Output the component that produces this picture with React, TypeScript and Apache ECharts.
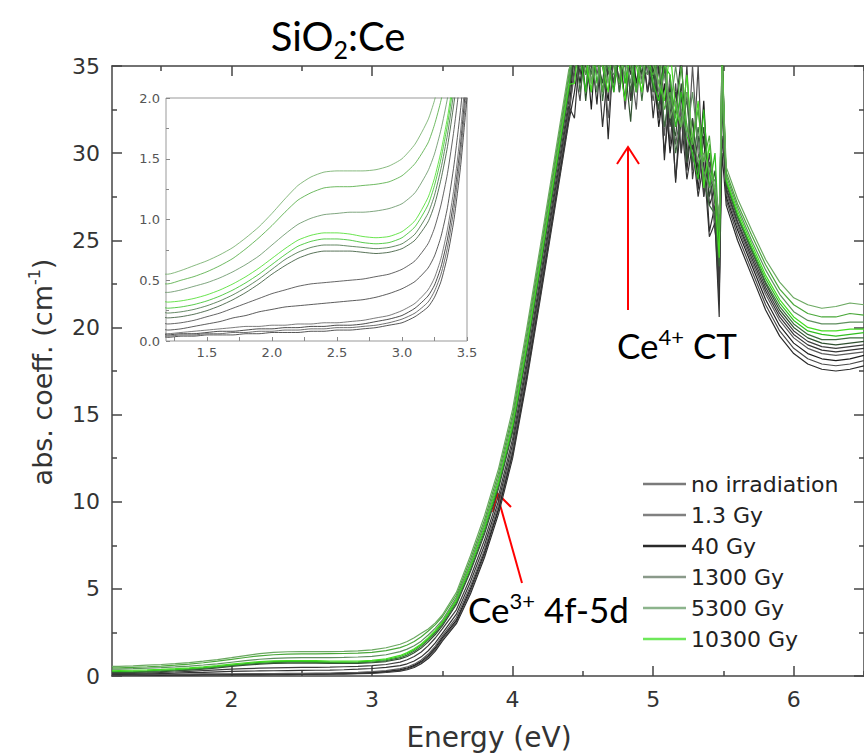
import React, { useEffect, useRef } from "react";
import * as echarts from "echarts";

// ---------- energy grid (eV) ----------
const E_LOW = [1.15, 1.2, 1.3, 1.4, 1.5, 1.6, 1.7, 1.8, 1.9, 2.0, 2.1, 2.2, 2.3, 2.4, 2.5, 2.6, 2.7, 2.8, 2.9, 3.0, 3.1, 3.2, 3.25, 3.3, 3.35, 3.4, 3.45, 3.5];
const E_RISE = [3.6, 3.7, 3.8, 3.9, 4.0, 4.1, 4.2, 4.3, 4.4];
const E_TOP = [4.44, 4.48, 4.52, 4.56, 4.6, 4.64, 4.68, 4.72, 4.76, 4.8, 4.84, 4.88, 4.92, 4.96, 5.0, 5.04, 5.08, 5.12, 5.16, 5.2, 5.24, 5.28, 5.32, 5.36, 5.4, 5.44, 5.47, 5.49];
const E_TAIL = [5.52, 5.6, 5.7, 5.8, 5.9, 6.0, 6.1, 6.2, 6.3, 6.4, 6.5];

// ---------- legend ----------
const DOSE_NAMES = ["no irradiation", "1.3 Gy", "40 Gy", "1300 Gy", "5300 Gy", "10300 Gy"];
const LEGEND_COLORS = ["#7a7a7a", "#808080", "#2a2a2a", "#8a9a8a", "#8cb48c", "#6ee85a"];

// ---------- curves (abs. coeff., cm^-1) ----------
const CURVE_LOW = [
  [0.04, 0.03, 0.04, 0.04, 0.05, 0.05, 0.05, 0.06, 0.06, 0.07, 0.07, 0.07, 0.08, 0.08, 0.09, 0.09, 0.10, 0.11, 0.13, 0.15, 0.20, 0.28, 0.36, 0.49, 0.70, 1.00, 1.43, 2.00],
  [0.05, 0.04, 0.05, 0.05, 0.06, 0.06, 0.07, 0.07, 0.08, 0.08, 0.09, 0.09, 0.10, 0.10, 0.11, 0.11, 0.12, 0.13, 0.15, 0.18, 0.23, 0.32, 0.41, 0.55, 0.77, 1.09, 1.53, 2.10],
  [0.06, 0.05, 0.06, 0.06, 0.07, 0.08, 0.08, 0.09, 0.10, 0.10, 0.11, 0.11, 0.12, 0.12, 0.13, 0.13, 0.14, 0.16, 0.18, 0.21, 0.27, 0.37, 0.46, 0.61, 0.84, 1.17, 1.62, 2.20],
  [0.07, 0.06, 0.07, 0.08, 0.09, 0.10, 0.11, 0.12, 0.12, 0.13, 0.13, 0.14, 0.14, 0.15, 0.15, 0.16, 0.17, 0.19, 0.21, 0.25, 0.31, 0.42, 0.52, 0.68, 0.92, 1.26, 1.72, 2.30],
  [0.10, 0.09, 0.10, 0.12, 0.14, 0.16, 0.19, 0.21, 0.24, 0.26, 0.28, 0.29, 0.30, 0.31, 0.32, 0.33, 0.34, 0.36, 0.39, 0.43, 0.49, 0.60, 0.70, 0.86, 1.10, 1.45, 1.90, 2.45],
  [0.15, 0.14, 0.15, 0.17, 0.20, 0.23, 0.27, 0.31, 0.35, 0.39, 0.42, 0.45, 0.47, 0.48, 0.49, 0.50, 0.51, 0.53, 0.55, 0.59, 0.66, 0.80, 0.93, 1.12, 1.38, 1.74, 2.18, 2.70],
  [0.20, 0.19, 0.20, 0.22, 0.25, 0.29, 0.34, 0.40, 0.47, 0.55, 0.62, 0.68, 0.72, 0.74, 0.74, 0.74, 0.73, 0.72, 0.73, 0.76, 0.83, 0.98, 1.12, 1.33, 1.60, 1.96, 2.38, 2.88],
  [0.24, 0.23, 0.24, 0.26, 0.29, 0.33, 0.38, 0.44, 0.51, 0.59, 0.67, 0.73, 0.77, 0.79, 0.79, 0.78, 0.77, 0.76, 0.77, 0.80, 0.88, 1.05, 1.20, 1.42, 1.70, 2.06, 2.48, 2.98],
  [0.28, 0.27, 0.28, 0.30, 0.33, 0.37, 0.42, 0.48, 0.55, 0.63, 0.71, 0.78, 0.82, 0.84, 0.84, 0.83, 0.81, 0.80, 0.81, 0.85, 0.94, 1.12, 1.28, 1.50, 1.78, 2.14, 2.56, 3.05],
  [0.33, 0.32, 0.33, 0.35, 0.38, 0.42, 0.47, 0.53, 0.60, 0.68, 0.76, 0.83, 0.87, 0.89, 0.89, 0.88, 0.86, 0.85, 0.86, 0.90, 0.99, 1.18, 1.34, 1.56, 1.84, 2.20, 2.62, 3.10],
  [0.40, 0.40, 0.42, 0.45, 0.48, 0.52, 0.57, 0.63, 0.70, 0.79, 0.88, 0.96, 1.01, 1.04, 1.05, 1.06, 1.06, 1.07, 1.09, 1.13, 1.22, 1.40, 1.54, 1.74, 2.00, 2.35, 2.75, 3.20],
  [0.47, 0.47, 0.50, 0.53, 0.57, 0.62, 0.68, 0.76, 0.85, 0.95, 1.06, 1.16, 1.22, 1.26, 1.27, 1.27, 1.28, 1.29, 1.31, 1.36, 1.46, 1.63, 1.78, 1.98, 2.25, 2.58, 2.95, 3.40],
  [0.55, 0.55, 0.58, 0.62, 0.66, 0.71, 0.77, 0.85, 0.94, 1.05, 1.17, 1.28, 1.35, 1.39, 1.40, 1.40, 1.40, 1.41, 1.44, 1.50, 1.62, 1.82, 1.98, 2.20, 2.45, 2.70, 3.05, 3.50],
];

const CURVE_RISE = [
  [3.0, 4.7, 6.8, 9.3, 12.5, 16.9, 21.8, 26.8, 31.8],
  [3.1, 4.85, 6.95, 9.5, 12.7, 17.1, 22.0, 27.0, 32.0],
  [3.2, 5.0, 7.1, 9.6, 12.85, 17.25, 22.2, 27.2, 32.2],
  [3.35, 5.15, 7.25, 9.8, 13.0, 17.45, 22.4, 27.4, 32.4],
  [3.55, 5.4, 7.5, 10.05, 13.3, 17.75, 22.7, 27.7, 32.7],
  [3.8, 5.65, 7.8, 10.35, 13.6, 18.05, 23.0, 28.0, 33.0],
  [4.1, 6.0, 8.15, 10.75, 14.0, 18.5, 23.45, 28.4, 33.4],
  [4.2, 6.1, 8.3, 10.9, 14.15, 18.65, 23.6, 28.6, 33.6],
  [4.3, 6.25, 8.45, 11.05, 14.35, 18.85, 23.8, 28.8, 33.8],
  [4.4, 6.35, 8.6, 11.2, 14.5, 19.0, 23.95, 28.95, 33.95],
  [4.5, 6.5, 8.75, 11.4, 14.75, 19.3, 24.25, 29.25, 34.25],
  [4.65, 6.7, 8.95, 11.65, 15.0, 19.6, 24.5, 29.5, 34.5],
  [4.8, 6.9, 9.2, 11.9, 15.3, 19.9, 24.8, 29.8, 34.8],
];

const CURVE_TOP = [
  [33.5, 36, 34.5, 36, 32.8, 37, 30.8, 36, 34, 37, 33, 36, 35.5, 37, 33.5, 36, 29.6, 34, 28.3, 33.5, 29, 32, 27.9, 31, 25.5, 27, 22, 30],
  [35, 33, 37, 34, 36, 33.5, 36.5, 34, 37, 32.5, 36, 33.5, 37, 34.5, 36, 32, 35, 30.5, 34, 30, 33.5, 29, 35, 27.5, 29.5, 26, 21.5, 33],
  [36, 34, 36.5, 32.5, 37, 35, 33, 37, 35.5, 33, 37, 34, 36, 33.5, 35, 31.5, 34, 30, 32.5, 35.5, 30, 31, 28.5, 33, 27, 28, 23, 36],
  [34.5, 36.5, 33.5, 37, 34.5, 36, 32, 35.5, 36.5, 34, 35, 32.5, 37, 35, 33, 35.5, 31, 34.5, 30.5, 32.5, 29.5, 35, 30, 28, 29, 25.5, 24, 34],
  [32, 36, 35, 33.5, 36, 31.5, 35, 37, 33.5, 36, 34.5, 37, 34, 36, 32, 35, 30, 33, 28.5, 32, 28.5, 30.5, 27.5, 29.5, 25.2, 26, 20.6, 36],
  [37, 34.5, 37, 35, 33.5, 36.5, 34.5, 36, 34, 37, 33, 35.5, 36.5, 33.5, 36, 33, 35.5, 31.5, 33.5, 30, 35, 28.5, 31, 27.5, 30, 27, 22.5, 31],
  [35.5, 37, 33, 36, 35.5, 34, 37, 33.5, 36, 35, 31.8, 36.5, 34.5, 37, 34.5, 32.5, 36, 32, 31, 34, 29.5, 32, 29, 31.5, 27.5, 29, 24.5, 36],
  [36.5, 33.5, 36, 34.5, 37, 33, 35.5, 36, 33.5, 36.5, 33.5, 36, 33, 36, 33.5, 36, 31.5, 33.5, 30, 32, 33, 29.5, 31.5, 28.5, 27, 26.5, 23.5, 33],
  [37, 35.5, 33.5, 37, 34, 36, 35, 33.5, 37, 34, 36, 33.5, 35.5, 36, 34, 33, 35, 34.5, 31.5, 33.5, 31, 30, 28.5, 32.5, 28, 30, 25, 35],
  [34, 37, 35.5, 33.5, 36.5, 35, 33.5, 37, 35, 33, 36.5, 35, 33.5, 37, 35.5, 34, 33, 36, 32.5, 31.5, 34.5, 30.5, 33, 28, 30.5, 27.5, 24, 36],
  [36, 35, 37, 35.5, 33.5, 37, 35, 34.5, 36, 35.5, 34, 37, 35, 34.5, 36, 33.5, 34.5, 32.5, 35, 32.5, 31, 33.5, 30.5, 29, 28, 28.5, 26, 34],
  [37, 36, 34.5, 37, 35.5, 33.5, 36.5, 35, 34, 37, 35, 33.5, 36.5, 35, 34.5, 35.5, 32.5, 33.5, 32, 35, 31.5, 30.5, 32.5, 29.5, 31, 27.5, 25.5, 33.5],
  [35.5, 37, 36, 34, 37, 35.5, 34, 37, 35.5, 34.5, 36.5, 35.5, 34, 36.5, 35, 34, 36, 32, 33, 31.5, 33.5, 31, 29.5, 30, 29, 28, 26.5, 35],
];

const CURVE_TAIL = [
  [27.0, 25.0, 23.0, 21.0, 19.5, 18.5, 17.9, 17.6, 17.5, 17.6, 17.8],
  [27.3, 25.3, 23.3, 21.3, 19.8, 18.8, 18.2, 17.9, 17.8, 17.9, 18.1],
  [27.5, 25.6, 23.6, 21.6, 20.1, 19.1, 18.5, 18.2, 18.1, 18.2, 18.4],
  [27.7, 25.8, 23.8, 21.9, 20.4, 19.4, 18.8, 18.5, 18.4, 18.5, 18.6],
  [27.9, 26.0, 24.0, 22.1, 20.6, 19.6, 19.0, 18.7, 18.6, 18.7, 18.8],
  [28.0, 26.1, 24.2, 22.3, 20.8, 19.8, 19.2, 18.9, 18.8, 18.9, 19.0],
  [28.2, 26.3, 24.4, 22.5, 21.0, 20.0, 19.4, 19.1, 19.0, 19.1, 19.2],
  [28.3, 26.4, 24.5, 22.6, 21.2, 20.2, 19.6, 19.3, 19.3, 19.4, 19.4],
  [28.4, 26.5, 24.6, 22.8, 21.4, 20.4, 19.8, 19.6, 19.5, 19.6, 19.7],
  [28.5, 26.7, 24.8, 23.0, 21.6, 20.6, 20.0, 19.8, 19.8, 19.9, 19.9],
  [28.7, 26.9, 25.0, 23.3, 21.9, 20.9, 20.4, 20.2, 20.2, 20.3, 20.3],
  [28.9, 27.1, 25.3, 23.6, 22.2, 21.3, 20.8, 20.6, 20.6, 20.8, 20.7],
  [29.2, 27.4, 25.6, 23.9, 22.6, 21.7, 21.3, 21.1, 21.2, 21.4, 21.3],
];

const CURVE_COLORS = ["#2a2a2a", "#4a4a4a", "#1e1e1e", "#5a5a5a", "#333333", "#3d3d3d", "#2f4f2f", "#3e6b3e", "#2fbf1f", "#44dd22", "#5f8f5f", "#4aa83a", "#6aa860"];

// ---------- ticks ----------
const X_MAJOR = [2, 3, 4, 5, 6];
const X_MINOR = [1.5, 2.5, 3.5, 4.5, 5.5, 6.5];
const INSET_X_LABELS = [1.5, 2.0, 2.5, 3.0, 3.5];
const INSET_X_TICKS = [1.25, 1.5, 1.75, 2.0, 2.25, 2.5, 2.75, 3.0, 3.25, 3.5];

const ENERGY = [...E_LOW, ...E_RISE, ...E_TOP, ...E_TAIL];

function buildOption() {
  const curves = CURVE_LOW.map((low, i) => {
    const vals = [...low, ...CURVE_RISE[i], ...CURVE_TOP[i], ...CURVE_TAIL[i]];
    return ENERGY.map((e, k) => [e, vals[k]]);
  });

  const axisCol = "#444";
  const font = "DejaVu Sans";
  const series: any[] = [];

  DOSE_NAMES.forEach((n, i) => {
    series.push({
      name: n,
      type: "line",
      xAxisIndex: 0,
      yAxisIndex: 0,
      data: [],
      symbol: "none",
      lineStyle: { color: LEGEND_COLORS[i], width: 2 },
      itemStyle: { color: LEGEND_COLORS[i] },
    });
  });

  curves.forEach((d, i) => {
    series.push({
      name: "curve" + i,
      type: "line",
      xAxisIndex: 0,
      yAxisIndex: 0,
      data: d,
      symbol: "none",
      silent: true,
      clip: true,
      lineStyle: { color: CURVE_COLORS[i], width: 1.2 },
    });
  });
  curves.forEach((d, i) => {
    series.push({
      name: "inset" + i,
      type: "line",
      xAxisIndex: 4,
      yAxisIndex: 2,
      data: d,
      symbol: "none",
      silent: true,
      clip: true,
      smooth: 0.2,
      lineStyle: { color: CURVE_COLORS[i], width: 0.8 },
    });
  });

  const mainX = (pos: string, major: boolean, label: boolean) => ({
    gridIndex: 0,
    type: "value",
    min: 1.15,
    max: 6.5,
    position: pos,
    axisLine: { show: major, onZero: false, lineStyle: { color: axisCol, width: 1.5 } },
    axisTick: {
      show: true,
      inside: true,
      length: major ? 10 : 5,
      customValues: major ? X_MAJOR : X_MINOR,
      lineStyle: { color: axisCol, width: 1.5 },
    },
    axisLabel: {
      show: label,
      customValues: X_MAJOR,
      margin: 12,
      fontFamily: font,
      fontSize: 22,
      color: "#333",
    },
    splitLine: { show: false },
  });

  const mainY = (pos: string, label: boolean) => ({
    gridIndex: 0,
    type: "value",
    min: 0,
    max: 35,
    interval: 5,
    position: pos,
    axisLine: { show: true, onZero: false, lineStyle: { color: axisCol, width: 1.5 } },
    axisTick: { show: true, inside: true, length: 10, lineStyle: { color: axisCol, width: 1.5 } },
    minorTick: { show: true, splitNumber: 2, length: 5, lineStyle: { color: axisCol, width: 1.5 } },
    axisLabel: { show: label, margin: 12, fontFamily: font, fontSize: 22, color: "#333" },
    splitLine: { show: false },
    minorSplitLine: { show: false },
  });

  return {
    animation: false,
    backgroundColor: "#fff",
    grid: [
      { left: 112, top: 66, width: 752, height: 610, show: false },
      { left: 166, top: 98, width: 301, height: 243, show: true, borderColor: "#999", borderWidth: 1, backgroundColor: "#fff" },
    ],
    legend: {
      data: DOSE_NAMES,
      orient: "vertical",
      left: 638,
      top: 468,
      icon: "rect",
      itemWidth: 43,
      itemHeight: 2.5,
      itemGap: 9,
      selectedMode: false,
      textStyle: { fontFamily: font, fontSize: 22, color: "#222", lineHeight: 22 },
    },
    xAxis: [
      mainX("bottom", true, true),
      mainX("bottom", false, false),
      mainX("top", true, false),
      mainX("top", false, false),
      {
        gridIndex: 1,
        type: "value",
        min: 1.185,
        max: 3.5,
        position: "bottom",
        axisLine: { show: false },
        axisTick: { show: true, inside: true, length: 4, customValues: INSET_X_TICKS, lineStyle: { color: "#888" } },
        axisLabel: {
          show: true,
          customValues: INSET_X_LABELS,
          margin: 5,
          fontFamily: font,
          fontSize: 13,
          color: "#555",
          formatter: (v: number) => v.toFixed(1),
        },
        splitLine: { show: false },
      },
    ],
    yAxis: [
      mainY("left", true),
      mainY("right", false),
      {
        gridIndex: 1,
        type: "value",
        min: 0,
        max: 2,
        interval: 0.5,
        position: "left",
        axisLine: { show: false },
        axisTick: { show: true, inside: true, length: 4, lineStyle: { color: "#888" } },
        minorTick: { show: true, splitNumber: 2, length: 3, lineStyle: { color: "#888" } },
        axisLabel: {
          show: true,
          margin: 6,
          fontFamily: font,
          fontSize: 13,
          color: "#555",
          formatter: (v: number) => v.toFixed(1),
        },
        splitLine: { show: false },
        minorSplitLine: { show: false },
      },
    ],
    series,
    graphic: [
      {
        type: "text",
        x: 338,
        y: 36,
        style: {
          text: "{a|SiO}{s|2}{a|:Ce}",
          align: "center",
          verticalAlign: "middle",
          fill: "#000",
          rich: {
            a: { fontFamily: "Lato", fontSize: 40, lineHeight: 46, fill: "#000" },
            s: { fontFamily: "Lato", fontSize: 25, lineHeight: 46, verticalAlign: "bottom", padding: [0, 0, -2, 0], fill: "#000" },
          },
        },
      },
      {
        type: "text",
        x: 617,
        y: 345,
        style: {
          text: "{a|Ce}{s|4+}{a| CT}",
          align: "left",
          verticalAlign: "middle",
          fill: "#000",
          rich: {
            a: { fontFamily: "Lato", fontSize: 35, lineHeight: 40, fill: "#000" },
            s: { fontFamily: "Lato", fontSize: 22, lineHeight: 22, verticalAlign: "top", fill: "#000" },
          },
        },
      },
      {
        type: "text",
        x: 468,
        y: 609,
        style: {
          text: "{a|Ce}{s|3+}{a| 4f-5d}",
          align: "left",
          verticalAlign: "middle",
          fill: "#000",
          rich: {
            a: { fontFamily: "Lato", fontSize: 35, lineHeight: 40, fill: "#000" },
            s: { fontFamily: "Lato", fontSize: 22, lineHeight: 22, verticalAlign: "top", fill: "#000" },
          },
        },
      },
      { type: "line", shape: { x1: 628, y1: 310, x2: 628, y2: 148 }, style: { stroke: "#ff0000", lineWidth: 2 } },
      { type: "polyline", shape: { points: [[617, 164], [628, 147], [639, 164]] }, style: { stroke: "#ff0000", lineWidth: 2, fill: null } },
      { type: "line", shape: { x1: 522, y1: 583, x2: 497, y2: 494 }, style: { stroke: "#ff0000", lineWidth: 2 } },
      { type: "polyline", shape: { points: [[493, 512], [497, 493], [511, 507]] }, style: { stroke: "#ff0000", lineWidth: 2, fill: null } },
      {
        type: "text",
        x: 489,
        y: 737,
        style: { text: "Energy (eV)", align: "center", verticalAlign: "middle", fontFamily: font, fontSize: 28, fill: "#333" },
      },
      {
        type: "text",
        x: 42,
        y: 372,
        rotation: Math.PI / 2,
        style: {
          text: "{a|abs. coeff. (cm}{s|-1}{a|)}",
          align: "center",
          verticalAlign: "middle",
          fill: "#333",
          rich: {
            a: { fontFamily: font, fontSize: 27, lineHeight: 32, fill: "#333" },
            s: { fontFamily: font, fontSize: 16, lineHeight: 16, verticalAlign: "top", fill: "#333" },
          },
        },
      },
    ],
  };
}

export default function App() {
  const ref = useRef<HTMLDivElement>(null);
  useEffect(() => {
    const chart = echarts.init(ref.current as HTMLDivElement, null, { renderer: "svg" });
    chart.setOption(buildOption() as any);
    return () => chart.dispose();
  }, []);
  return (
    <div
      ref={ref}
      style={{ position: "absolute", left: 0, top: 0, width: 864, height: 753, background: "#fff" }}
    />
  );
}
